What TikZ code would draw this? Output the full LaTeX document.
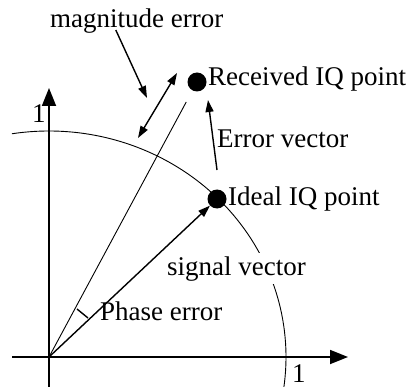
\documentclass[tikz,border=0pt]{standalone}
\usepackage{fontspec}
\setmainfont{Liberation Serif}
\usetikzlibrary{arrows.meta,positioning}

\begin{document}
\begin{tikzpicture}[x=1pt,y=-1pt,
      every node/.style={font=\fontsize{27}{30}\selectfont,inner sep=0pt},
      lbl/.style={anchor=base west},
      dot/.style={circle,fill=black,minimum size=19pt,inner sep=0pt},
      axis/.style={line width=1.8pt,-{Triangle[length=18pt,width=14pt]}},
      vec/.style={line width=1.4pt,-{Triangle[length=12pt,width=8pt]}},
      thinline/.style={line width=0.9pt}]
    \useasboundingbox (0,0) rectangle (414,387);
    % Axes
    \coordinate (O)  at (49,357);
    \coordinate (xl) at (12,357);
    \coordinate (xr) at (348,357);
    \coordinate (yb) at (49,387);
    \coordinate (yt) at (49,88);
    \draw[axis] (xl)--(xr);
    \draw[axis] (yb)--(yt);
    \node[lbl] (oney) at (32,123) {1};
    \node[lbl] (onex) at (292,382) {1};
    % Unit circle
    \draw[thinline] (O) ++(-99:237 and 226)
         arc[start angle=-99,end angle=8,x radius=237,y radius=226];
    % IQ points
    \node[dot] (ideal) at (217,199) {};
    \node[dot] (recv)  at (197,82)  {};
    \node[lbl] (ideallbl) at (228,205) {Ideal IQ point};
    \node[lbl] (recvlbl)  at (208,86)  {Received IQ point};
    % Vectors
    \draw[vec] (O)--(ideal);
    \draw[thinline,shorten >=13pt] (O)--(recv);
    \node[lbl,fill=white,inner sep=3pt] (siglbl) at (164,275) {signal vector};
    % Error vector
    \coordinate (ev1) at (217,170);
    \coordinate (ev2) at (208,100);
    \draw[vec] (ev1)--(ev2);
    \node[lbl] (errlbl) at (217,148) {Error vector};
    % Magnitude error
    \coordinate (m1) at (138,138);
    \coordinate (m2) at (177,73);
    \draw[line width=1.4pt,{Triangle[length=12pt,width=8pt]}-{Triangle[length=12pt,width=8pt]}] (m1)--(m2);
    \node[lbl] (maglbl) at (50,28) {magnitude error};
    \coordinate (mtip) at (147,98);
    \draw[vec] ([xshift=-21pt,yshift=4pt]maglbl.south)--(mtip);
    % Phase error
    \coordinate (p1) at (77,309);
    \coordinate (p2) at (88,318);
    \draw[line width=1.4pt] (p1)--(p2);
    \node[lbl] (phaselbl) at (100,320) {Phase error};
  \end{tikzpicture}
\end{document}
